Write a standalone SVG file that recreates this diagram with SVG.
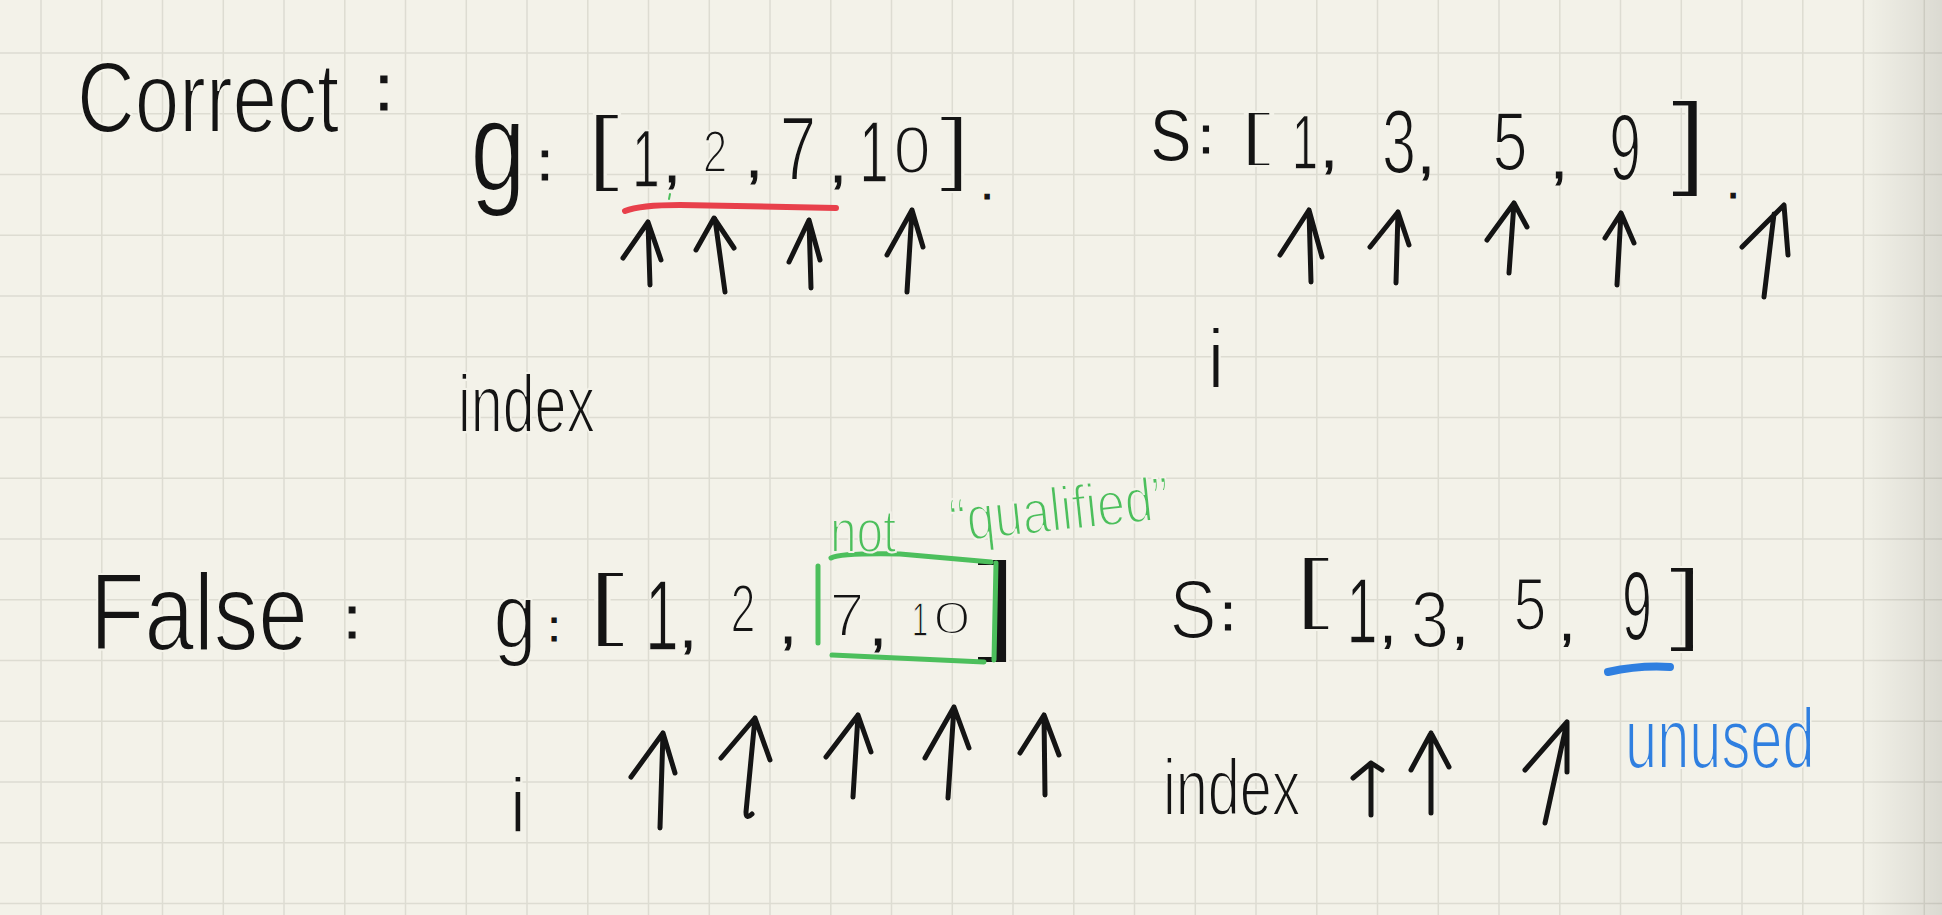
<svg xmlns="http://www.w3.org/2000/svg" width="1942" height="915" viewBox="0 0 1942 915">
<defs>
<linearGradient id="shade" x1="0" y1="0" x2="1" y2="0">
<stop offset="0" stop-color="#000" stop-opacity="0"/>
<stop offset="1" stop-color="#000" stop-opacity="0.1"/>
</linearGradient>
<style>
.t{font-family:"Liberation Sans",Arial,sans-serif;fill:#141414;stroke:#f3f2e9;stroke-width:2.2}
.p{stroke:#141414;stroke-width:1.2}
.n{stroke-width:1.4}
.c{text-anchor:middle}
.gr{fill:#4cbf5c}
.bl{fill:#2f7fe0}
.grid{fill:none;stroke:#dddcd2;stroke-width:1.5}
.ar{fill:none;stroke:#141414;stroke-width:5;stroke-linecap:round;stroke-linejoin:round}
.mk{fill:none;stroke-linecap:round;stroke-linejoin:round}
</style>
</defs>
<rect width="1942" height="915" fill="#f3f2e9"/>
<path class="grid" d="M41,0V915M101.8,0V915M162.5,0V915M223.3,0V915M284,0V915M344.8,0V915M405.5,0V915M466.3,0V915M527,0V915M587.8,0V915M648.5,0V915M709.3,0V915M770,0V915M830.8,0V915M891.5,0V915M952.3,0V915M1013,0V915M1073.8,0V915M1134.5,0V915M1195.3,0V915M1256,0V915M1316.8,0V915M1377.5,0V915M1438.3,0V915M1499,0V915M1559.8,0V915M1620.5,0V915M1681.3,0V915M1742,0V915M1802.8,0V915M1863.5,0V915M1924.3,0V915M0,53H1942M0,113.8H1942M0,174.5H1942M0,235.3H1942M0,296H1942M0,356.8H1942M0,417.5H1942M0,478.3H1942M0,539H1942M0,599.8H1942M0,660.5H1942M0,721.3H1942M0,782H1942M0,842.8H1942M0,903.5H1942"/>
<rect x="1860" y="0" width="82" height="915" fill="url(#shade)"/>

<g id="title-correct">
<text class="t" font-size="100" transform="translate(77,132) scale(0.8,1)">Correct</text>
<text class="t c p" font-size="64" transform="translate(384,110)">:</text>
</g>

<g id="g-array-top">
<text class="t c" font-size="128" transform="translate(498,190) scale(0.78,1)">g</text>
<text class="t c p" font-size="55" transform="translate(545,180)">:</text>
<text class="t c" font-size="83" transform="translate(603,175) scale(1.5,1)">[</text>
<text class="t c n" font-size="82" transform="translate(646,187) scale(0.6,1)">1</text>
<text class="t c p" font-size="56" transform="translate(672,182)">,</text>
<text class="t c" font-size="59" transform="translate(715,172) scale(0.75,1)">2</text>
<text class="t c p" font-size="56" transform="translate(754,177)">,</text>
<text class="t c" font-size="91" transform="translate(798,180) scale(0.72,1)">7</text>
<text class="t c p" font-size="56" transform="translate(838,182)">,</text>
<text class="t c n" font-size="87" transform="translate(874,182) scale(0.6,1)">1</text>
<text class="t c" font-size="67" transform="translate(912,173)">0</text>
<text class="t c" font-size="82" transform="translate(955,175) scale(1.4,1)">]</text>
<text class="t c p" font-size="44" transform="translate(987,199)">.</text>
</g>

<g id="mark-red-underline">
<path class="mk" stroke="#e8404b" stroke-width="6" d="M625,211 Q640,205 680,205 L836,208"/>
<path class="mk" stroke="#4cbf5c" stroke-width="2" d="M670,194 L669,199"/>
</g>

<g id="s-array-top">
<text class="t c" font-size="96" transform="translate(1171,161) scale(0.88,1)">s</text>
<text class="t c p" font-size="52" transform="translate(1206,153)">:</text>
<text class="t c" font-size="58" transform="translate(1255,154) scale(2.2,1)">[</text>
<text class="t c n" font-size="78" transform="translate(1305,169) scale(0.6,1)">1</text>
<text class="t c p" font-size="56" transform="translate(1329,167)">,</text>
<text class="t c" font-size="90" transform="translate(1399,173) scale(0.68,1)">3</text>
<text class="t c p" font-size="56" transform="translate(1426,173)">,</text>
<text class="t c" font-size="84" transform="translate(1510,170) scale(0.75,1)">5</text>
<text class="t c p" font-size="56" transform="translate(1559,178)">,</text>
<text class="t c" font-size="95" transform="translate(1625,180) scale(0.6,1)">9</text>
<text class="t c" font-size="103" transform="translate(1689,175) scale(1.3,1)">]</text>
<text class="t c p" font-size="44" transform="translate(1733,198)">.</text>
</g>

<g id="label-index-top">
<text class="t" font-size="82" transform="translate(458,432) scale(0.7,1)">index</text>
</g>
<g id="label-i-top">
<text class="t c" font-size="83" transform="translate(1216,388)">i</text>
</g>

<g id="title-false">
<text class="t" font-size="110" transform="translate(90,650) scale(0.81,1)">False</text>
<text class="t c p" font-size="60" transform="translate(352,638)">:</text>
</g>

<g id="g-array-bottom">
<text class="t c" font-size="92" transform="translate(515,648) scale(0.84,1)">g</text>
<text class="t c p" font-size="42" transform="translate(554,641)">:</text>
<text class="t c" font-size="80" transform="translate(606,630) scale(1.8,1)">[</text>
<text class="t c n" font-size="100" transform="translate(662,650) scale(0.6,1)">1</text>
<text class="t c p" font-size="56" transform="translate(688,647)">,</text>
<text class="t c" font-size="68" transform="translate(743,632) scale(0.66,1)">2</text>
<text class="t c p" font-size="56" transform="translate(788,643)">,</text>
<text class="t c" font-size="62" transform="translate(847,636)">7</text>
<text class="t c p" font-size="56" transform="translate(878,645)">,</text>
<text class="t c n" font-size="48" transform="translate(920,636) scale(0.6,1)">1</text>
<text class="t c" font-size="46" transform="translate(952,634) scale(1.5,1)">0</text>
<text class="t c" font-size="112" transform="translate(997,640) scale(1.4,1)">]</text>
</g>

<g id="mark-green-box">
<path class="mk" stroke="#4cbf5c" stroke-width="5" d="M818,566 L818,643 M831,558 Q840,553 900,554 L991,562 M996,563 L994,660 M832,655 L984,662"/>
</g>

<g id="note-not-qualified">
<text class="t gr" font-size="62" transform="translate(830,552) scale(0.77,1)">not</text>
<text class="t gr" font-size="62" transform="rotate(-6 952 542) translate(952,542) scale(0.81,1)">“qualified”</text>
</g>

<g id="s-array-bottom">
<text class="t c" font-size="83" transform="translate(1193,638) scale(0.85,1)">S</text>
<text class="t c p" font-size="52" transform="translate(1228,630)">:</text>
<text class="t c" font-size="77" transform="translate(1312,614) scale(1.8,1)">[</text>
<text class="t c n" font-size="92" transform="translate(1362,643) scale(0.6,1)">1</text>
<text class="t c p" font-size="52" transform="translate(1388,642)">,</text>
<text class="t c" font-size="80" transform="translate(1430,647) scale(0.86,1)">3</text>
<text class="t c p" font-size="52" transform="translate(1460,643)">,</text>
<text class="t c" font-size="74" transform="translate(1530,630) scale(0.8,1)">5</text>
<text class="t c p" font-size="52" transform="translate(1567,640)">,</text>
<text class="t c" font-size="98" transform="translate(1637,640) scale(0.55,1)">9</text>
<text class="t c" font-size="90" transform="translate(1686,633) scale(1.4,1)">]</text>
</g>

<g id="mark-blue-underline">
<path class="mk" stroke="#2f7fe0" stroke-width="8" d="M1608,672 Q1640,665 1670,667"/>
</g>

<g id="label-unused">
<text class="t bl" font-size="85" transform="translate(1625,768) scale(0.68,1)">unused</text>
</g>
<g id="label-index-bottom">
<text class="t" font-size="80" transform="translate(1163,815) scale(0.72,1)">index</text>
</g>
<g id="label-i-bottom">
<text class="t c" font-size="78" transform="translate(518,833)">i</text>
</g>

<g id="connectors">
<path class="ar" d="M650,285 L648,222 M623,258 L648,222 L661,260"/>
<path class="ar" d="M725,292 L715,219 M696,250 L714,218 L734,248"/>
<path class="ar" d="M811,288 L809,220 M789,262 L809,220 L820,260"/>
<path class="ar" d="M907,292 L912,210 M887,255 L912,210 L923,247"/>
<path class="ar" d="M1311,282 L1309,210 M1280,255 L1309,210 L1322,257"/>
<path class="ar" d="M1396,283 L1398,212 M1370,247 L1398,212 L1409,245"/>
<path class="ar" d="M1509,273 L1514,203 M1487,240 L1514,203 L1527,227"/>
<path class="ar" d="M1617,285 L1621,213 M1605,238 L1621,213 L1634,243"/>
<path class="ar" d="M1764,297 L1774,214 M1742,247 L1784,205 L1788,255"/>
<path class="ar" d="M660,828 L663,733 M631,777 L663,733 L675,773"/>
<path class="ar" d="M752,814 Q746,820 746,812 L755,718 M721,758 L755,718 L770,760"/>
<path class="ar" d="M853,797 L858,715 M826,757 L858,715 L871,752"/>
<path class="ar" d="M948,798 L954,707 M925,758 L954,707 L969,748"/>
<path class="ar" d="M1045,795 L1044,715 M1020,753 L1044,715 L1059,755"/>
<path class="ar" d="M1371,815 L1371,763 M1353,778 L1371,763 L1382,770"/>
<path class="ar" d="M1431,813 L1431,733 M1411,770 L1431,733 L1449,767"/>
<path class="ar" d="M1545,823 L1567,722 M1525,770 L1567,722 L1567,772"/>
</g>
</svg>
